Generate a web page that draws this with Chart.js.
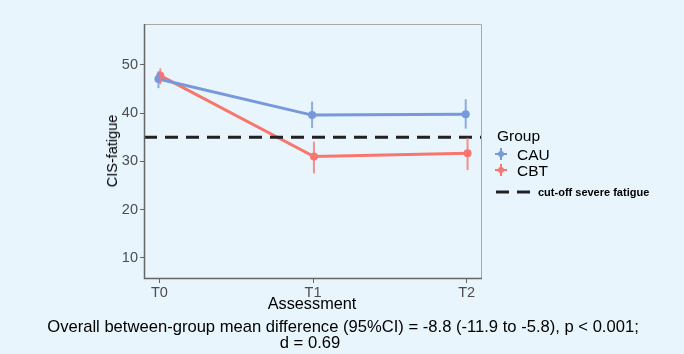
<!DOCTYPE html>
<html><head><meta charset="utf-8">
<script src="https://cdn.jsdelivr.net/npm/chart.js@4"></script>
<style>
html,body{margin:0;padding:0;background:#E8F5FD;}
#wrap{position:relative;width:684px;height:354px;font-family:"Liberation Sans",Arial,sans-serif;}
canvas{position:absolute;left:0;top:0;}
.t{position:absolute;white-space:nowrap;color:#000;line-height:18px;}
</style></head>
<body><div id="wrap"><canvas id="c" width="684" height="354"></canvas>
<div class="t" style="left:312px;top:294px;transform:translateX(-50%);font-size:16.3px;">Assessment</div>
<div class="t" style="left:112px;top:151px;transform:translate(-50%,-50%) rotate(-90deg);font-size:14.5px;">CIS-fatigue</div>
<div class="t" style="left:343px;top:318px;transform:translateX(-50%);font-size:16.6px;">Overall between-group mean difference (95%CI) = -8.8 (-11.9 to -5.8), p &lt; 0.001;</div>
<div class="t" style="left:310px;top:334px;transform:translateX(-50%);font-size:16.6px;">d = 0.69</div>
<div class="t" style="left:497px;top:127px;font-size:15.5px;">Group</div>
<div class="t" style="left:517px;top:146px;font-size:15.5px;">CAU</div>
<div class="t" style="left:517px;top:162px;font-size:15.5px;">CBT</div>
<div class="t" style="left:538px;top:183px;font-size:11px;font-weight:bold;">cut-off severe fatigue</div>
</div>
<script>
const categories = ["T0", "T1", "T2"];
const cauMean = [47.1, 39.6, 39.8];
const cauLow  = [45.2, 36.9, 36.8];
const cauHigh = [48.7, 42.4, 42.9];
const cbtMean = [47.8, 31.0, 31.7];
const cbtLow  = [46.0, 27.5, 28.2];
const cbtHigh = [49.3, 34.1, 34.9];
const cutoff = 35;
const yTicks = [10, 20, 30, 40, 50];

const CAU = '#7799DA', CAUe = 'rgba(119,153,218,0.8)';
const CBT = '#F8766D', CBTe = 'rgba(248,118,109,0.8)';
const dodge = 0.006;

const datasets = [];
function errBars(lo, hi, off, col) {
  lo.forEach((l, i) => {
    datasets.push({type:'line', data:[{x:i+off, y:l},{x:i+off, y:hi[i]}],
      borderColor:col, borderWidth:2, pointRadius:0, fill:false});
  });
}
errBars(cauLow, cauHigh, -dodge, CAUe);
errBars(cbtLow, cbtHigh, dodge, CBTe);
datasets.push({type:'line', data:[{x:-0.1,y:cutoff},{x:2.1,y:cutoff}],
  borderColor:'#222', borderWidth:3, borderDash:[13,8], pointRadius:0});
datasets.push({type:'line', data:cauMean.map((v,i)=>({x:i-dodge,y:v})),
  borderColor:CAU, backgroundColor:CAU, borderWidth:3, pointRadius:4, pointBorderWidth:0});
datasets.push({type:'line', data:cbtMean.map((v,i)=>({x:i+dodge,y:v})),
  borderColor:CBT, backgroundColor:CBT, borderWidth:3, pointRadius:4, pointBorderWidth:0});

const frame = {
  id:'frame',
  afterDraw(chart){
    const {ctx, chartArea:a} = chart;
    ctx.save();
    ctx.strokeStyle = '#A8A8A8'; ctx.lineWidth = 1;
    ctx.beginPath(); ctx.moveTo(a.left, a.top+0.5); ctx.lineTo(a.right-0.5, a.top+0.5); ctx.lineTo(a.right-0.5, a.bottom); ctx.stroke();
    ctx.strokeStyle = '#666'; ctx.lineWidth = 1.5;
    ctx.beginPath(); ctx.moveTo(a.left+0.5, a.top); ctx.lineTo(a.left+0.5, a.bottom-0.5); ctx.lineTo(a.right, a.bottom-0.5); ctx.stroke();
    const keys = [[501,154,CAU],[501,170,CBT]];
    keys.forEach(([x,y,c])=>{
      ctx.strokeStyle=c; ctx.lineWidth=2;
      ctx.beginPath(); ctx.moveTo(x,y-6); ctx.lineTo(x,y+6); ctx.moveTo(x-6,y); ctx.lineTo(x+6,y); ctx.stroke();
      ctx.fillStyle=c; ctx.beginPath(); ctx.arc(x,y,3,0,Math.PI*2); ctx.fill();
    });
    ctx.strokeStyle='#222'; ctx.lineWidth=3; ctx.setLineDash([13,8]);
    ctx.beginPath(); ctx.moveTo(496,192); ctx.lineTo(533,192); ctx.stroke();
    ctx.restore();
  }
};

new Chart(document.getElementById('c'), {
  type:'scatter',
  data:{datasets},
  options:{
    responsive:false, animation:false,
    layout:{padding:{top:24, right:202, left:0, bottom:0}},
    plugins:{legend:{display:false}, tooltip:{enabled:false}},
    scales:{
      x:{type:'linear', min:-0.1, max:2.1,
        afterBuildTicks(s){ s.ticks = categories.map((c,i)=>({value:i})); },
        afterFit(s){ s.height = 75; },
        ticks:{callback:(v)=>categories[v], color:'#4D4D4D', font:{size:14.5, family:'Liberation Sans'}, padding:1, maxRotation:0},
        grid:{drawOnChartArea:false, tickLength:4, color:'#666'},
        border:{display:false}},
      y:{type:'linear', min:5.6, max:58.5,
        afterBuildTicks(s){ s.ticks = yTicks.map(v=>({value:v})); },
        afterFit(s){ s.width = 144; },
        ticks:{color:'#4D4D4D', font:{size:14.5, family:'Liberation Sans'}, padding:2},
        grid:{drawOnChartArea:false, tickLength:4, color:'#666'},
        border:{display:false}}
    }
  },
  plugins:[frame]
});
</script></body></html>
